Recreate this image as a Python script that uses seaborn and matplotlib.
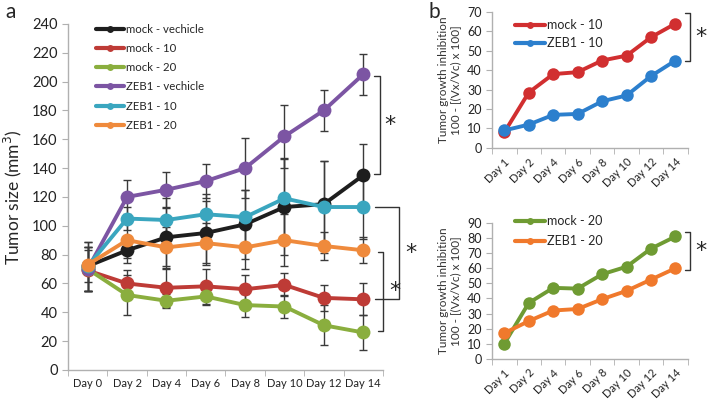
import pandas as pd
import numpy as np
import matplotlib
matplotlib.use('Agg')
import matplotlib.pyplot as plt
import seaborn as sns
from matplotlib.ticker import FixedLocator

# ---- data ----
days_a = ['Day 0', 'Day 2', 'Day 4', 'Day 6', 'Day 8', 'Day 10', 'Day 12', 'Day 14']
series_a = ['mock - vechicle', 'mock - 10', 'mock - 20', 'ZEB1 - vechicle', 'ZEB1 - 10', 'ZEB1 - 20']
mock_vehicle = [72, 83, 92, 95, 101, 113, 115, 135]
mock_10 = [69, 60, 57, 58, 56, 59, 50, 49]
mock_20 = [70, 52, 48, 51, 45, 44, 31, 26]
zeb1_vehicle = [70, 120, 125, 131, 140, 162, 180, 205]
zeb1_10 = [72, 105, 104, 108, 106, 119, 113, 113]
zeb1_20 = [73, 90, 85, 88, 85, 90, 86, 83]
err_mock_vehicle = [17, 9, 20, 22, 24, 33, 30, 22]
err_mock_10 = [14, 9, 13, 12, 10, 8, 9, 11]
err_mock_20 = [15, 14, 5, 6, 8, 8, 14, 12]
err_zeb1_vehicle = [15, 12, 12, 12, 21, 22, 14, 14]
err_zeb1_10 = [17, 8, 15, 14, 19, 28, 32, 22]
err_zeb1_20 = [12, 12, 14, 14, 15, 18, 10, 9]

days_b = ['Day 1', 'Day 2', 'Day 4', 'Day 6', 'Day 8', 'Day 10', 'Day 12', 'Day 14']
tgi_mock_10 = [8, 28.5, 38, 39, 45, 47.5, 57, 64]
tgi_zeb1_10 = [9, 12, 17, 17.5, 24, 27, 37, 45]
tgi_mock_20 = [10, 37, 47, 46.5, 56, 61, 73, 81]
tgi_zeb1_20 = [17, 25, 32, 33, 39.5, 45, 52.5, 60]

colors_a = ['#1e1e1e', '#be3b36', '#8aae3e', '#7c55a3', '#3aa6bf', '#ef8a3c']

sns.set_style('white')
plt.rcParams['font.family'] = ['Lato', 'DejaVu Sans']

fig = plt.figure(figsize=(7.09, 4.12), dpi=100)
ax_a = fig.add_axes([0.096, 0.102, 0.444, 0.840])
ax_b1 = fig.add_axes([0.694, 0.641, 0.276, 0.330])
ax_b2 = fig.add_axes([0.694, 0.129, 0.276, 0.330])

def excel_axes(ax, n, ylim, ystep, labels, rot=0, xfs=8, yfs=10):
    for s in ['top', 'right']:
        ax.spines[s].set_visible(False)
    for s in ['left', 'bottom']:
        ax.spines[s].set_color('#b0b0b0')
        ax.spines[s].set_linewidth(1)
    ax.set_xlim(-0.5, n - 0.5)
    ax.set_ylim(*ylim)
    ax.set_yticks(np.arange(ylim[0], ylim[1] + 0.1, ystep))
    ax.set_xticks(range(n))
    ax.set_xticklabels(labels, rotation=rot, ha='right' if rot else 'center',
                       rotation_mode='anchor' if rot else 'default', fontsize=xfs)
    ax.xaxis.set_minor_locator(FixedLocator(np.arange(-0.5, n, 1)))
    ax.tick_params(axis='x', which='major', length=0, pad=6, colors='#222222')
    ax.tick_params(axis='x', which='minor', length=4, color='#b0b0b0', direction='out', bottom=True)
    ax.tick_params(axis='y', length=4, color='#b0b0b0', direction='out', left=True, labelsize=yfs, colors='#222222')
    ax.set_xlabel('')

def style_legend(lg):
    for h in lg.legend_handles:
        h.set_markersize(5)
        h.set_linewidth(3)

# significance brackets (data coords, day index on x)
def bracket(ax, x, y0, y1, x_in, star_x, fs=16):
    ax.plot([x_in, x, x, x_in], [y0, y0, y1, y1], color='#333333', lw=1, clip_on=False)
    ax.text(star_x, (y0 + y1) / 2, '*', fontsize=fs, ha='center', va='center',
            family='DejaVu Sans', clip_on=False)

# ---- panel a ----
vals_a = [mock_vehicle, mock_10, mock_20, zeb1_vehicle, zeb1_10, zeb1_20]
errs_a = [err_mock_vehicle, err_mock_10, err_mock_20, err_zeb1_vehicle, err_zeb1_10, err_zeb1_20]
df_a = pd.DataFrame({
    'day': days_a * len(series_a),
    'group': np.repeat(series_a, len(days_a)),
    'size': np.concatenate(vals_a),
})
for v, e in zip(vals_a, errs_a):
    ax_a.errorbar(range(len(days_a)), v, yerr=e, fmt='none', ecolor='#3a3a3a',
                  elinewidth=1, capsize=3, capthick=1, zorder=1)
sns.lineplot(data=df_a, x='day', y='size', hue='group', palette=colors_a, sort=False,
             marker='o', markersize=10, markeredgewidth=0, linewidth=2.8, ax=ax_a, zorder=3)
excel_axes(ax_a, len(days_a), (0, 240), 20, days_a, xfs=8, yfs=10.5)
ax_a.set_ylabel('Tumor size (mm$^3$)', fontsize=12.5, labelpad=6)
leg = ax_a.legend(loc='upper left', bbox_to_anchor=(0.055, 1.03), frameon=False, fontsize=8.2,
                  handlelength=2.5, labelspacing=0.72, handletextpad=0.2)
style_legend(leg)

bracket(ax_a, 7.44, 204, 136, 7.28, 7.68)
bracket(ax_a, 7.92, 113, 49.5, 7.3, 8.22)
bracket(ax_a, 7.51, 82, 27, 7.38, 7.8)

fig.text(0.008, 0.995, 'a', fontsize=15, va='top')
fig.text(0.605, 0.995, 'b', fontsize=15, va='top')

# ---- panel b ----
def panel_b(ax, names, ys, cols, ylim, ystep, brk, leg_y, spacing):
    df = pd.DataFrame({
        'day': days_b * 2,
        'group': np.repeat(names, len(days_b)),
        'tgi': np.concatenate(ys),
    })
    sns.lineplot(data=df, x='day', y='tgi', hue='group', palette=cols, sort=False,
                 marker='o', markersize=9, markeredgewidth=0, linewidth=2.8, ax=ax)
    excel_axes(ax, len(days_b), ylim, ystep, days_b, rot=45, xfs=8, yfs=9)
    ax.set_ylabel('Tumor growth inhibition\n100 - [(Vx/Vc) x 100]', fontsize=8.5, color='#333333', labelpad=4)
    lg = ax.legend(loc='upper left', bbox_to_anchor=(0.06, leg_y), frameon=False, fontsize=9,
                   handlelength=2.4, labelspacing=spacing, handletextpad=0.15)
    style_legend(lg)
    bracket(ax, 7.6, brk[0], brk[1], 7.4, 8.05)

panel_b(ax_b1, ['mock - 10', 'ZEB1 - 10'], [tgi_mock_10, tgi_zeb1_10],
        ['#d12f30', '#2c7fcd'], (0, 70), 10, (69.5, 44.5), 1.03, 0.5)
panel_b(ax_b2, ['mock - 20', 'ZEB1 - 20'], [tgi_mock_20, tgi_zeb1_20],
        ['#6f9b33', '#f0792c'], (0, 90), 10, (84, 58.5), 1.14, 0.65)

fig.savefig('out.png', dpi=100)
